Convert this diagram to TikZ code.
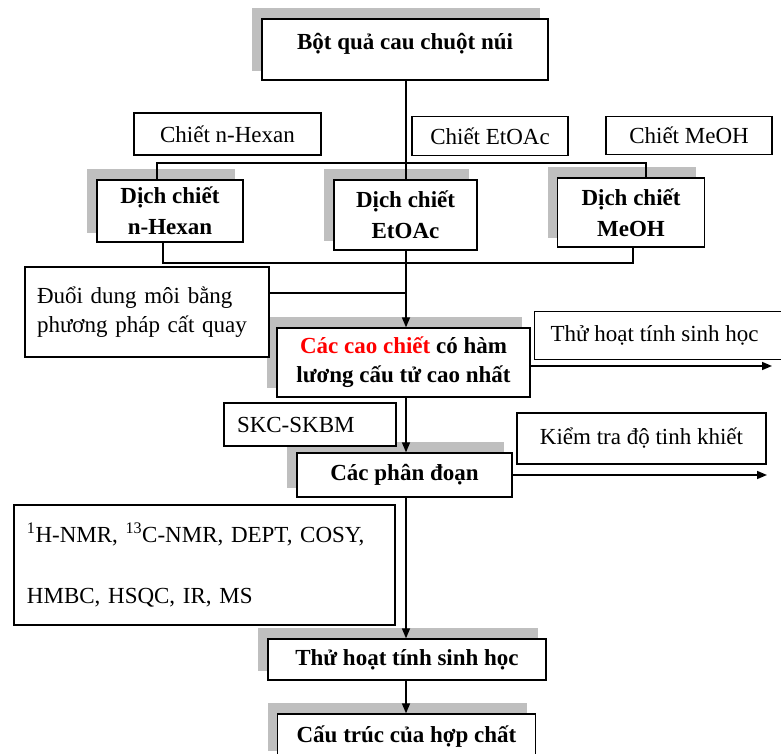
\documentclass[tikz,border=0pt]{standalone}
\usepackage{fontspec}
\setmainfont{Liberation Serif}
\usetikzlibrary{arrows.meta}
\pgfdeclarelayer{shad}
\pgfdeclarelayer{lines}
\pgfsetlayers{shad,lines,main}
\newcommand\myfs{\fontsize{23}{29}\selectfont}
\newcommand\myfsd{\fontsize{23}{31}\selectfont}
\tikzset{
  bx/.style={draw=black, line width=1.3pt, fill=white, inner sep=0pt, font=\myfs},
  bbx/.style={bx, font=\myfs\bfseries, align=center},
  dbx/.style={bx, font=\myfsd\bfseries, align=center},
  shd/.style={fill=black!25, draw=none},
  ln/.style={line width=1.5pt, draw=black},
  arr/.style={ln, -{Triangle[length=10pt,width=8pt]}},
}
\newcommand\mkshadow[1]{\fill[shd] ([shift={(-9,-10)}]#1.north west) rectangle ([shift={(-9,-10)}]#1.south east);}
\begin{document}
\begin{tikzpicture}[x=1pt,y=-1pt]
\useasboundingbox (0,0) rectangle (781,754);

% main boxes
\node[bbx, minimum width=286pt, minimum height=61pt, text height=21pt, text depth=20pt] (top) at (405,49.5) {Bột quả cau chuột núi};

\node[bx, minimum width=187pt, minimum height=42pt] (chex) at (227.5,134) {Chiết n-Hexan};
\node[bx, minimum width=156pt, minimum height=39pt] (cet) at (490,136) {Chiết EtOAc};
\node[bx, minimum width=166pt, minimum height=38pt] (cme) at (689,135.5) {Chiết MeOH};

\node[dbx, minimum width=146pt, minimum height=62pt] (dhex) at (170,211) {Dịch chiết\\n-Hexan};
\node[dbx, minimum width=143pt, minimum height=70pt] (det) at (405.5,215) {Dịch chiết\\EtOAc};
\node[dbx, minimum width=147pt, minimum height=69pt] (dme) at (631,212.5) {Dịch chiết\\MeOH};

\node[bx, minimum width=244pt, minimum height=90pt, align=left, text width=220pt] (duoi) at (147,312)
  {\makebox[214pt][s]{Đuổi dung môi bằng}\\phương pháp cất quay};

\node[bbx, minimum width=253pt, minimum height=69pt] (cao) at (403.5,362.5)
  {{\color{red}Các cao chiết} có hàm\\lương cấu tử cao nhất};

\node[bx, minimum width=256pt, minimum height=48pt, anchor=north west] (thu1) at (534,311) {\hspace*{-16pt}Thử hoạt tính sinh học};

\node[bx, minimum width=172pt, minimum height=43pt, align=left, text width=146pt] (skc) at (310,424.5) {SKC-SKBM};

\node[bbx, minimum width=215pt, minimum height=44pt] (pd) at (404.5,475) {Các phân đoạn};

\node[bx, minimum width=249pt, minimum height=51pt] (kt) at (641.5,438.5) {Kiểm tra độ tinh khiết};

\node[bx, minimum width=381pt, minimum height=120pt, align=left, text width=355pt] (nmr) at (204.5,565)
  {\textsuperscript{1}H-NMR, \textsuperscript{13}C-NMR, DEPT, COSY,\\[32pt]HMBC, HSQC, IR, MS\\[-6pt]};

\node[bbx, minimum width=278pt, minimum height=41pt] (thu2) at (407,659.5) {Thử hoạt tính sinh học};

\node[bbx, minimum width=258pt, minimum height=46pt] (ct) at (406.5,737) {Cấu trúc của hợp chất};

% junction coordinates
\coordinate (spine) at (406,0);
\coordinate (jtl) at (157,163);
\coordinate (jtr) at (646,163);
\coordinate (jbl) at (163,263);
\coordinate (jbr) at (633,263);
\coordinate (jd) at (406,293);
\coordinate (a1) at (772,366);
\coordinate (a2) at (767,475);

\begin{pgfonlayer}{shad}
\mkshadow{top}
\mkshadow{dhex}
\mkshadow{det}
\mkshadow{dme}
\mkshadow{cao}
\mkshadow{pd}
\mkshadow{thu2}
\mkshadow{ct}
\end{pgfonlayer}

\begin{pgfonlayer}{lines}
\draw[arr] (top.south -| spine) -- (cao.north -| spine);
\draw[ln] (dhex.north -| jtl) -- (jtl) -- (jtr) -- (dme.north -| jtr);
\draw[ln] (dhex.south -| jbl) -- (jbl) -- (jbr) -- (dme.south -| jbr);
\draw[ln] (duoi.east |- jd) -- (jd);
\draw[arr] (cao.east |- a1) -- (a1);
\draw[arr] (cao.south -| spine) -- (pd.north -| spine);
\draw[arr] (pd.east |- a2) -- (a2);
\draw[arr] (pd.south -| spine) -- (thu2.north -| spine);
\draw[arr] (thu2.south -| spine) -- (ct.north -| spine);
\end{pgfonlayer}
\end{tikzpicture}
\end{document}
